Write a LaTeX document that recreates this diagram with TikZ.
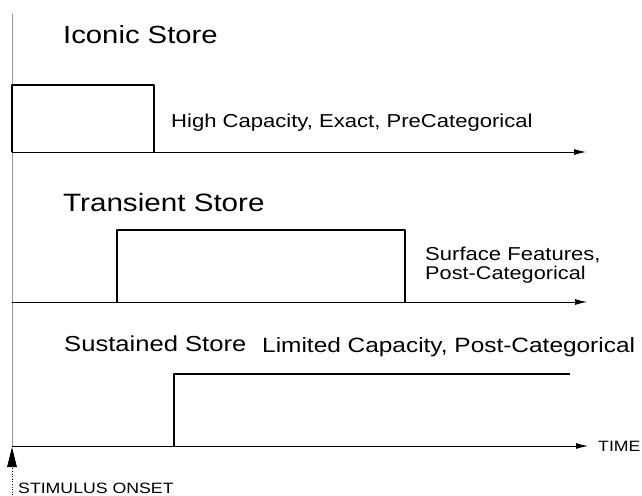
\documentclass[tikz,border=0pt]{standalone}
\usepackage{fontspec}
\setmainfont{Liberation Sans}[FakeStretch=1.18]
\usetikzlibrary{arrows.meta}
\definecolor{axisgray}{RGB}{150,150,150}

\tikzset{
  storetitle/.style={font=\fontsize{24.8}{25}\selectfont, anchor=base west, inner sep=0pt},
  storenote/.style={font=\fontsize{18.7}{19}\selectfont, anchor=base west, inner sep=0pt},
  smallcaps/.style={font=\fontsize{15}{15}\selectfont, inner sep=0pt},
  timeaxis/.style={black, line width=0.8pt, -{Latex[length=12pt,width=6pt]}},
  pulse/.style={black, line width=2.8pt, line join=round}
}

\begin{document}
\begin{tikzpicture}[x=1pt,y=-1pt]
  \useasboundingbox (0,0) rectangle (642,495);
  % onset line
  \coordinate (top) at (12,14);
  \coordinate (onset) at (12,446);
  \draw[axisgray, line width=0.8pt] (top) -- (onset);
  % three time axes
  \coordinate (ax1) at (12,152);
  \coordinate (ax1end) at (586,152);
  \coordinate (ax2) at (12,302);
  \coordinate (ax2end) at (587,302);
  \coordinate (ax3end) at (588,446);
  \draw[timeaxis] (ax1) -- (ax1end);
  \draw[timeaxis] (ax2) -- (ax2end);
  \draw[timeaxis] (onset) -- (ax3end);
  % pulses
  \draw[pulse] (12,152) -- (12,85) -- (154,85) -- (154,152);
  \draw[pulse] (117,302) -- (117,230) -- (405,230) -- (405,302);
  \draw[pulse] (174,446) -- (174,374) -- (570,374);
  % labels
  \node[storetitle] (iconic) at (63,44) {Iconic Store};
  \node[storenote] (iconicnote) at (171,127) {High Capacity, Exact, PreCategorical};
  \node[storetitle, font=\fontsize{25.1}{25}\selectfont] (transient) at (63,211) {Transient Store};
  \node[storenote] (transientnote1) at (425,260) {Surface Features,};
  \node[storenote, font=\fontsize{18.4}{19}\selectfont] (transientnote2) at (425,279) {Post-Categorical};
  \node[storetitle, font=\fontsize{21.7}{22}\selectfont] (sustained) at (64,351) {Sustained Store};
  \node[storenote, font=\fontsize{20.7}{21}\selectfont] (sustainednote) at (262,352) {Limited Capacity, Post-Categorical};
  \node[smallcaps, anchor=west] (time) at (598,446) {TIME};
  % stimulus onset marker
  \coordinate (stimbase) at (12,495);
  \coordinate (stimtip) at (12,447);
  \draw[black, line width=0.6pt, dotted] (stimbase) -- (12,466);
  \fill[black] (stimtip) -- (7,467) -- (17,467) -- cycle;
  \node[smallcaps, anchor=base west] (stimulus) at (18,493) {STIMULUS ONSET};
\end{tikzpicture}
\end{document}
